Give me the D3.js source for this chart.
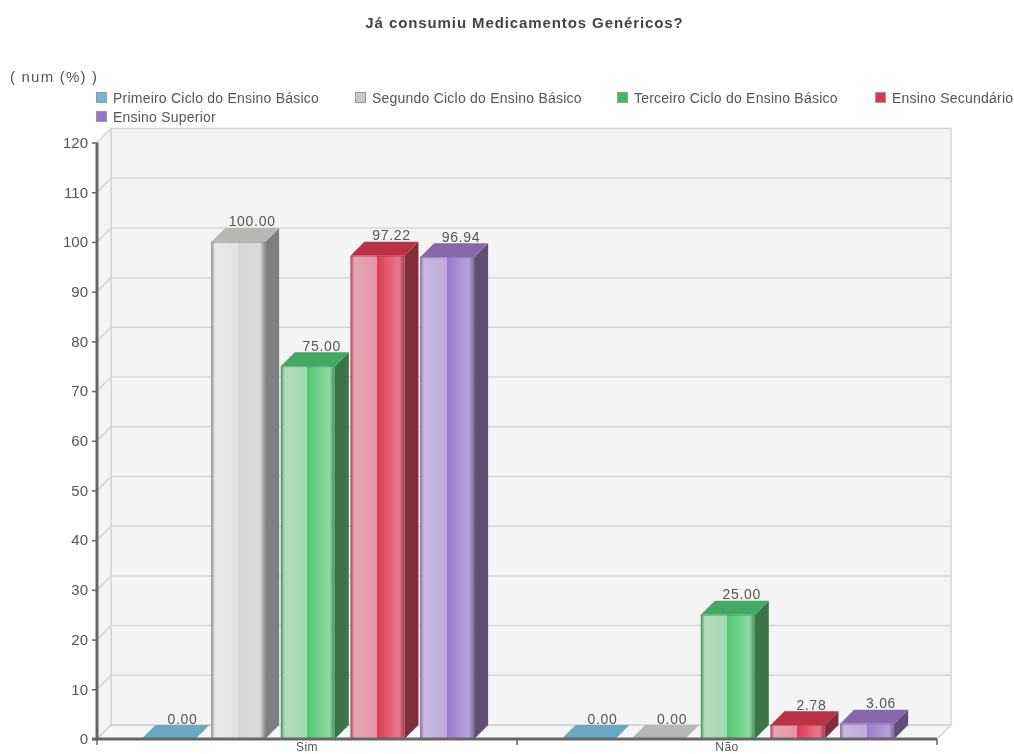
<!DOCTYPE html>
<html><head><meta charset="utf-8">
<script src="https://cdnjs.cloudflare.com/ajax/libs/d3/7.8.5/d3.min.js"></script>
<style>html,body{margin:0;padding:0;background:#fff;overflow:hidden}svg{display:block;filter:blur(0.35px)}text{font-family:"Liberation Sans",Arial,sans-serif}</style>
</head><body><svg id="c" width="1014" height="754"></svg>
<script>
const titleText = "Já consumiu Medicamentos Genéricos?";
const unitText = "( num (%) )";
const categories = ["Sim", "Não"];
const seriesNames = ["Primeiro Ciclo do Ensino Básico","Segundo Ciclo do Ensino Básico","Terceiro Ciclo do Ensino Básico","Ensino Secundário","Ensino Superior"];
const primeiro = [0.00, 0.00];
const segundo = [100.00, 0.00];
const terceiro = [75.00, 25.00];
const secundario = [97.22, 2.78];
const superior = [96.94, 3.06];
const seriesValues = [primeiro, segundo, terceiro, secundario, superior];
const yTicks = d3.range(0, 121, 10);
const legendColors = ["#6db9d4","#c9c9c9","#3fba62","#e0334f","#9b72cc"];
const topColors = ["#6aa9c2","#b8b8b4","#43a960","#be3045","#8768ae"];
const sideColors = ["#4f7f92","#7f7f7f","#3a7448","#7f2f3a","#5f4e75"];
const edgeColors = ["#5a9bb3","#8a8a8a","#3f8f58","#a5404f","#7f6a99"];
const lightColors = ["#b6dcea","#e8e8e8","#b2dcbb","#e6a8b4","#c8b9e0"];
const lightEndColors = ["#a8d4e4","#e2e2e2","#a0d8ad","#e295a5","#bfaadc"];
const midColors = ["#6db9d4","#d6d6d6","#4fc770","#de3a56","#9a78ce"];
const endColors = ["#a5d5e5","#dadada","#8fd8a4","#e8788e","#b8a0dc"];

const svg = d3.select("#c");
const X0 = 97, X1 = 937, Y0 = 739, YT = 142.5, D = 14;
const y = d3.scaleLinear().domain([0,120]).range([Y0,YT]);
const x = d3.scaleBand().domain(categories).range([X0,X1]);
const inner = d3.scaleBand().domain(d3.range(seriesNames.length)).range([44.5, 44.5+69.65*4+54]).paddingInner(0.2247).paddingOuter(0);

const defs = svg.append("defs");
seriesNames.forEach((_,i)=>{
  const g = defs.append("linearGradient").attr("id","g"+i);
  [[0,edgeColors[i]],[0.07,lightColors[i]],[0.49,lightEndColors[i]],[0.49,midColors[i]],[0.9,endColors[i]],[1,edgeColors[i]]]
    .forEach(s=>g.append("stop").attr("offset",s[0]).attr("stop-color",s[1]));
});

const grid = "#d6d6d6";
const poly = (pts,fill,stroke)=>svg.append("polygon").attr("points",pts.map(p=>p.join(",")).join(" ")).attr("fill",fill).attr("stroke",stroke||"none").attr("stroke-width",1.5);
poly([[X0+D,YT-D],[X1+D,YT-D],[X1+D,Y0-D],[X0+D,Y0-D]],"#f4f4f4",grid);
poly([[X0,YT],[X0+D,YT-D],[X0+D,Y0-D],[X0,Y0]],"#f4f4f4",grid);
poly([[X0,Y0],[X0+D,Y0-D],[X1+D,Y0-D],[X1,Y0]],"#f6f6f6",grid);
yTicks.forEach(t=>{
  if(t===120) return;
  svg.append("path").attr("d",`M${X0},${y(t)}L${X0+D},${y(t)-D}L${X1+D},${y(t)-D}`).attr("fill","none").attr("stroke",grid).attr("stroke-width",1.5);
});
categories.forEach((c,ci)=>{
  seriesValues.forEach((vals,si)=>{
    const v = vals[ci], bx = x(c)+inner(si), w = inner.bandwidth(), ty = y(v), by = y(0);
    if(v>0){
      poly([[bx+w,ty],[bx+w+D,ty-D],[bx+w+D,by-D],[bx+w,by]],sideColors[si]);
    }
    poly([[bx,ty],[bx+D,ty-D],[bx+w+D,ty-D],[bx+w,ty]],topColors[si]);
    if(v>0){
      svg.append("rect").attr("x",bx).attr("y",ty).attr("width",w).attr("height",by-ty).attr("fill",`url(#g${si})`);
      svg.append("line").attr("x1",bx).attr("x2",bx+w).attr("y1",ty+.5).attr("y2",ty+.5).attr("stroke",edgeColors[si]).attr("stroke-opacity",.6);
    }
    svg.append("text").attr("x",bx+w/2+14).attr("y",ty-D-1.5).attr("text-anchor","middle").attr("font-size",14).attr("letter-spacing",0.7).attr("fill","#555").text(v.toFixed(2));
  });
});
const lab = '"Liberation Sans",Arial,sans-serif';
const yAxis = svg.append("g").attr("transform",`translate(${X0},0)`).call(d3.axisLeft(y).tickValues(yTicks).tickSize(5).tickPadding(4));
yAxis.selectAll("text").attr("font-size",15).attr("fill","#555").style("font-family",lab);
yAxis.selectAll("line").attr("stroke","#666").attr("stroke-width",1.5);
yAxis.select(".domain").attr("stroke","#666").attr("stroke-width",3).attr("d",`M0,${YT}V${Y0}`);
const xAxis = svg.append("g").attr("transform",`translate(0,${Y0})`).call(d3.axisBottom(x).tickSize(0).tickPadding(3));
xAxis.select(".domain").attr("stroke","#666").attr("stroke-width",3).attr("d",`M${X0-5},0H${X1}`);
xAxis.selectAll("text").attr("font-size",12).attr("letter-spacing",0.5).attr("fill","#555").style("font-family",lab);
[X0,x.range()[0]+x.step(),X1].forEach(px=>svg.append("line").attr("x1",px).attr("x2",px).attr("y1",Y0).attr("y2",Y0+6).attr("stroke","#666").attr("stroke-width",1.5));
svg.append("text").attr("x",524.5).attr("y",28).attr("text-anchor","middle").attr("font-size",15).attr("font-weight","bold").attr("letter-spacing",0.9).attr("fill","#444").text(titleText);
svg.append("text").attr("x",10).attr("y",82).attr("font-size",15).attr("letter-spacing",1.2).attr("fill","#555").text(unitText);
const legendX = [96,355,617,875,96], legendY = [98,98,98,98,117];
seriesNames.forEach((n,i)=>{
  svg.append("rect").attr("x",legendX[i]+.5).attr("y",legendY[i]-5.5).attr("width",10).attr("height",10).attr("fill",legendColors[i]).attr("stroke","#999");
  svg.append("text").attr("x",legendX[i]+17).attr("y",legendY[i]+5).attr("font-size",14).attr("letter-spacing",0.22).attr("fill","#555").text(n);
});
</script></body></html>
